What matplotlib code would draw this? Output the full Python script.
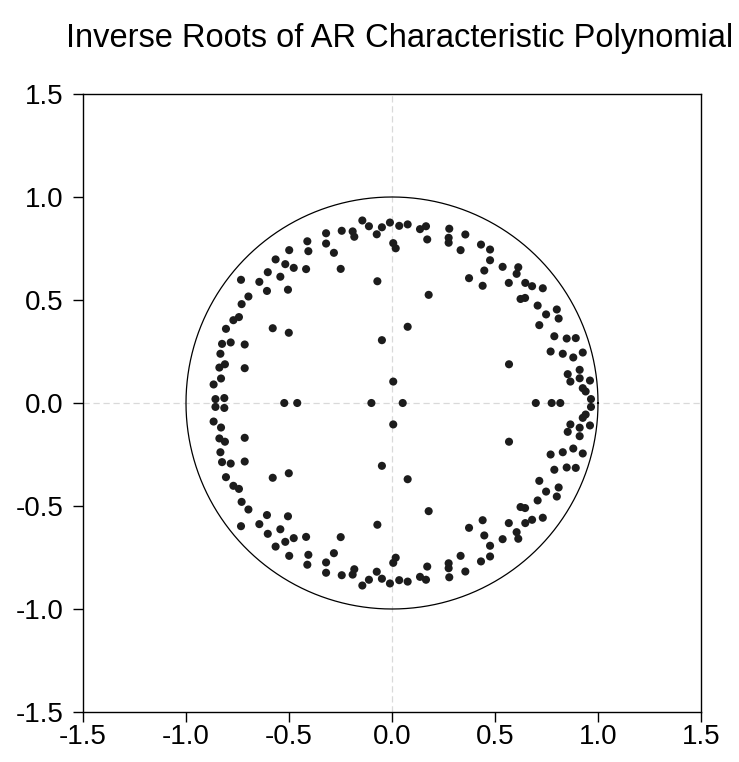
import numpy as np
import matplotlib
matplotlib.use("Agg")
import matplotlib.pyplot as plt

plt.rcParams['font.family'] = ['Liberation Sans', 'DejaVu Sans']

# Complex inverse roots (upper half; conjugates are mirrored)
root_re = [
    -0.411, -0.499, -0.406, -0.565, -0.518, -0.477, -0.417, -0.603, -0.542, -0.733,
    -0.644, -0.607, -0.505, -0.697, -0.730, -0.743, -0.770, -0.806, -0.579, -0.501,
    -0.825, -0.783, -0.715, -0.833, -0.811, -0.838, -0.715, -0.830, -0.866, -0.857,
    -0.814,
    -0.320, -0.320, -0.282, -0.244, -0.191, -0.183, -0.144, -0.112, -0.074, -0.049,
    -0.010, 0.006, 0.018, 0.035, 0.076, 0.136, 0.165, 0.171, 0.278, 0.275,
    0.275, -0.249, -0.071, 0.178, 0.076, -0.049, 0.006,
    0.356, 0.333, 0.432, 0.476, 0.476, 0.537, 0.613, 0.605, 0.448, 0.374,
    0.440, 0.567, 0.647, 0.680, 0.732, 0.624, 0.646, 0.707, 0.748, 0.800,
    0.809, 0.715, 0.788, 0.848, 0.892, 0.770, 0.829, 0.880, 0.926, 0.568,
    0.853, 0.911, 0.866, 0.911, 0.961, 0.926, 0.940, 0.966,
]
root_im = [
    0.785, 0.742, 0.737, 0.697, 0.674, 0.656, 0.650, 0.635, 0.613, 0.598,
    0.588, 0.544, 0.550, 0.517, 0.480, 0.417, 0.402, 0.360, 0.363, 0.341,
    0.287, 0.294, 0.284, 0.239, 0.188, 0.172, 0.169, 0.119, 0.090, 0.019,
    0.024,
    0.824, 0.774, 0.729, 0.836, 0.833, 0.807, 0.886, 0.858, 0.819, 0.853,
    0.876, 0.776, 0.751, 0.860, 0.867, 0.844, 0.858, 0.794, 0.846, 0.802,
    0.778, 0.651, 0.591, 0.525, 0.370, 0.305, 0.104,
    0.818, 0.742, 0.769, 0.745, 0.693, 0.661, 0.659, 0.627, 0.643, 0.606,
    0.569, 0.583, 0.583, 0.567, 0.557, 0.505, 0.510, 0.473, 0.430, 0.454,
    0.410, 0.378, 0.324, 0.313, 0.315, 0.250, 0.239, 0.221, 0.245, 0.188,
    0.140, 0.161, 0.104, 0.120, 0.109, 0.072, 0.056, 0.019,
]
# Real inverse roots
real_roots = [-0.523, -0.460, -0.100, 0.052, 0.698, 0.775, 0.817]

ticks = [-1.5, -1.0, -0.5, 0.0, 0.5, 1.0, 1.5]
tick_labels = ["-1.5", "-1.0", "-0.5", "0.0", "0.5", "1.0", "1.5"]

re = np.array(root_re)
im = np.array(root_im)
xs = np.concatenate([re, re, np.array(real_roots)])
ys = np.concatenate([im, -im, np.zeros(len(real_roots))])

fig = plt.figure(figsize=(7.39, 7.62), dpi=100)
ax = fig.add_axes([83/739, 50/762, 618/739, 618/762])

ax.axhline(0, color='#d9d9d9', lw=0.9, ls=(0, (5, 3)), zorder=0)
ax.axvline(0, color='#d9d9d9', lw=0.9, ls=(0, (5, 3)), zorder=0)

t = np.linspace(0, 2*np.pi, 721)
ax.plot(np.cos(t), np.sin(t), color='black', lw=0.9, zorder=1)

ax.scatter(xs, ys, s=34, color='#1c1c1c', edgecolors='none', zorder=2)

ax.set_xlim(-1.5, 1.5)
ax.set_ylim(-1.5, 1.5)
ax.set_xticks(ticks)
ax.set_xticklabels(tick_labels)
ax.set_yticks(ticks)
ax.set_yticklabels(tick_labels)
ax.tick_params(direction='out', length=7, width=1, labelsize=20)
ax.tick_params(axis='y', pad=7)
ax.tick_params(axis='x', pad=2)
for sp in ax.spines.values():
    sp.set_linewidth(1.0)

fig.text(400/739, 1 - 38/762, "Inverse Roots of AR Characteristic Polynomial",
         ha='center', va='center', fontsize=23.5)

fig.savefig("out.png", dpi=100)
